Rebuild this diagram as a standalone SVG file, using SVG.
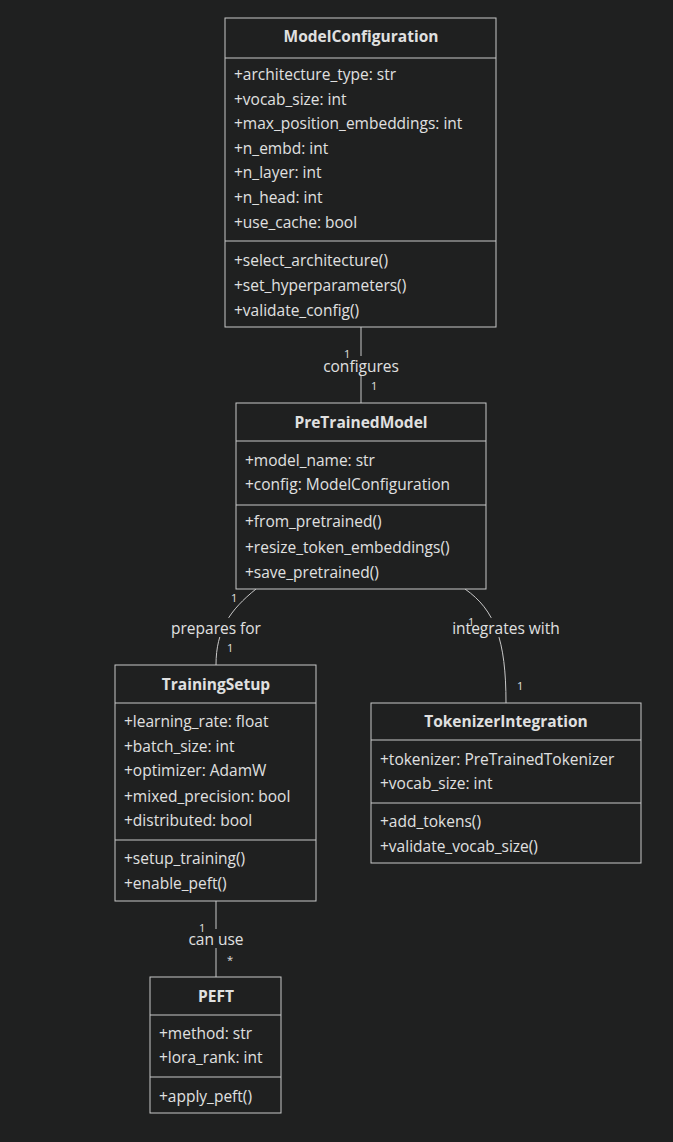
<svg xmlns="http://www.w3.org/2000/svg" width="673" height="1142" viewBox="0 0 673 1142">
<style>
.b{fill:#1f2020;stroke:#c8c8c8;stroke-width:1}
.t{font-family:"Open Sans","Liberation Sans",Arial,sans-serif;font-size:15.5px;fill:#e0e0e0}
.h{font-weight:bold;text-anchor:middle}
.l{stroke:#c8c8c8;stroke-width:1;fill:none}
.c{text-anchor:middle}
.s{font-size:11px}
.lb{fill:#1f2020}
</style>
<rect width="673" height="1142" fill="#1f2020"/>
<g id="connectors">
<path class="l" d="M361 327V403"/>
<path class="l" d="M256 589C230 610 216 630 216 665"/>
<path class="l" d="M465 589C495 610 506 640 506 703"/>
<path class="l" d="M216 901V977"/>
<rect class="lb" x="318" y="356" width="86" height="19"/>
<text class="t c" x="361" y="372">configures</text>
<text class="t s" x="344" y="358">1</text><text class="t s" x="371" y="390">1</text>
<rect class="lb" x="166" y="618" width="100" height="19"/>
<text class="t c" x="216" y="634">prepares for</text>
<text class="t s" x="231" y="602">1</text><text class="t s" x="227" y="652">1</text>
<rect class="lb" x="446" y="618" width="120" height="19"/>
<text class="t c" x="506" y="634">integrates with</text>
<text class="t s" x="468" y="626">1</text><text class="t s" x="517" y="690">1</text>
<rect class="lb" x="183" y="929" width="66" height="19"/>
<text class="t c" x="216" y="945">can use</text>
<text class="t s" x="199" y="932">1</text><text class="t s" x="227" y="964">*</text>
</g>
<g id="ModelConfiguration">
<rect class="b" x="225" y="18" width="271" height="309"/>
<path class="l" d="M225 58H496M225 241H496"/>
<text class="t h" x="361" y="42">ModelConfiguration</text>
<text class="t" x="234" y="80">+architecture_type: str</text>
<text class="t" x="234" y="105">+vocab_size: int</text>
<text class="t" x="234" y="129">+max_position_embeddings: int</text>
<text class="t" x="234" y="154">+n_embd: int</text>
<text class="t" x="234" y="178">+n_layer: int</text>
<text class="t" x="234" y="203">+n_head: int</text>
<text class="t" x="234" y="228">+use_cache: bool</text>
<text class="t" x="234" y="266">+select_architecture()</text>
<text class="t" x="234" y="291">+set_hyperparameters()</text>
<text class="t" x="234" y="316">+validate_config()</text>
</g>
<g id="PreTrainedModel">
<rect class="b" x="236" y="403" width="250" height="186"/>
<path class="l" d="M236 441H486M236 505H486"/>
<text class="t h" x="361" y="428">PreTrainedModel</text>
<text class="t" x="245" y="466">+model_name: str</text>
<text class="t" x="245" y="490">+config: ModelConfiguration</text>
<text class="t" x="245" y="527">+from_pretrained()</text>
<text class="t" x="245" y="553">+resize_token_embeddings()</text>
<text class="t" x="245" y="578">+save_pretrained()</text>
</g>
<g id="TrainingSetup">
<rect class="b" x="115" y="665" width="201" height="236"/>
<path class="l" d="M115 703H316M115 840H316"/>
<text class="t h" x="216" y="690">TrainingSetup</text>
<text class="t" x="124" y="727">+learning_rate: float</text>
<text class="t" x="124" y="752">+batch_size: int</text>
<text class="t" x="124" y="776">+optimizer: AdamW</text>
<text class="t" x="124" y="802">+mixed_precision: bool</text>
<text class="t" x="124" y="826">+distributed: bool</text>
<text class="t" x="124" y="864">+setup_training()</text>
<text class="t" x="124" y="889">+enable_peft()</text>
</g>
<g id="TokenizerIntegration">
<rect class="b" x="371" y="703" width="270" height="160"/>
<path class="l" d="M371 740H641M371 803H641"/>
<text class="t h" x="506" y="727">TokenizerIntegration</text>
<text class="t" x="380" y="765">+tokenizer: PreTrainedTokenizer</text>
<text class="t" x="380" y="789">+vocab_size: int</text>
<text class="t" x="380" y="827">+add_tokens()</text>
<text class="t" x="380" y="852">+validate_vocab_size()</text>
</g>
<g id="PEFT">
<rect class="b" x="150" y="977" width="131" height="136"/>
<path class="l" d="M150 1015H281M150 1077H281"/>
<text class="t h" x="216" y="1002">PEFT</text>
<text class="t" x="159" y="1039">+method: str</text>
<text class="t" x="159" y="1063">+lora_rank: int</text>
<text class="t" x="159" y="1102">+apply_peft()</text>
</g>
</svg>
